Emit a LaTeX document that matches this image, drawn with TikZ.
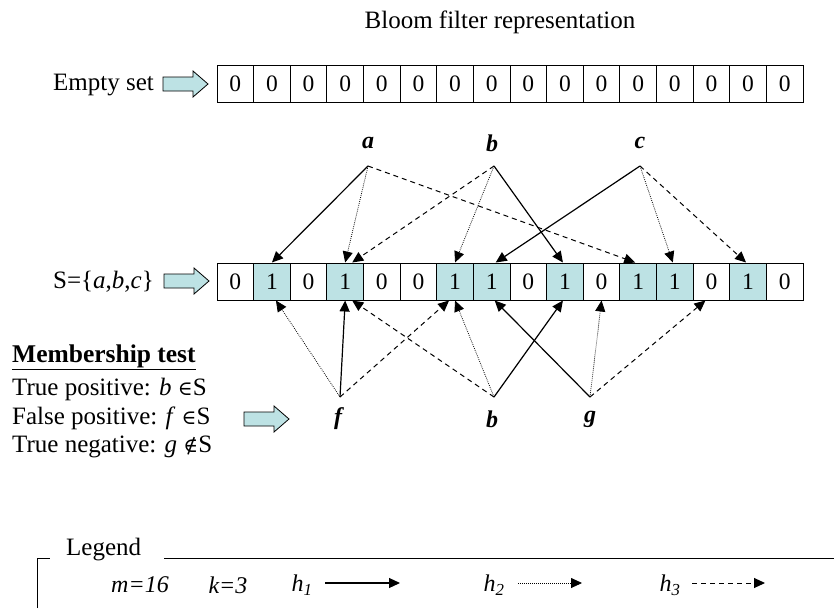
\documentclass[tikz,border=0pt]{standalone}
\usepackage{fontspec}
\setmainfont{Liberation Serif}
\newfontfamily\symfnt{DejaVu Serif}
\usetikzlibrary{arrows.meta,calc}
\definecolor{cyanfill}{RGB}{189,226,228}
\begin{document}
\begin{tikzpicture}[x=1pt,y=-1pt,
 cell/.style={draw, line width=1pt, minimum width=36.625pt, minimum height=37pt, inner sep=0pt, font=\fontsize{23.5}{23.5}\selectfont},
 lbl/.style={font=\fontsize{24}{24}\selectfont\bfseries\itshape, inner sep=0pt},
 txt/.style={font=\fontsize{25}{27}\selectfont, inner sep=0pt},
 itxt/.style={font=\fontsize{24}{26}\selectfont\itshape, inner sep=0pt},
 tip/.style={-{Triangle[length=11pt,width=10pt]}},
 hone/.style={tip, line width=1.2pt},
 htwo/.style={tip, line width=0.8pt, dash pattern=on 0.8pt off 1.2pt},
 hthree/.style={tip, line width=1pt, dash pattern=on 5pt off 4pt},
 blockarrow/.pic={\draw[fill=cyanfill, line width=0.8pt] (0,-7) -- (30,-7) -- (30,-13) -- (45,0) -- (30,13) -- (30,7) -- (0,7) -- cycle;}
]
\useasboundingbox (0,0) rectangle (834,608);

% title
\node[txt] (title) at (500,22) {Bloom filter representation};

% empty array
\node[txt, anchor=east] (empty) at (154,85) {Empty set};
\pic at (163,84) {blockarrow};
\foreach \i in {0,...,15}
  \node[cell] (e\i) at ({217+36.625*(\i+0.5)},84) {0};

% S array
\node[txt, anchor=east] (sset) at (154,282) {S=\{\textit{a},\textit{b},\textit{c}\}};
\pic at (164,281) {blockarrow};
\foreach \i/\v/\c in {0/0/white,1/1/cyanfill,2/0/white,3/1/cyanfill,4/0/white,5/0/white,6/1/cyanfill,7/1/cyanfill,8/0/white,9/1/cyanfill,10/0/white,11/1/cyanfill,12/1/cyanfill,13/0/white,14/1/cyanfill,15/0/white}
  \node[cell, fill=\c] (s\i) at ({217+36.625*(\i+0.5)},281.5) {\v};

% inserted elements
\node[lbl] (a) at (368,143) {a};
\node[lbl] (b) at (492,143) {b};
\node[lbl] (c) at (640,143) {c};
\coordinate (pa) at (368,166);
\coordinate (pb) at (494,166);
\coordinate (pc) at (640,166);

\draw[hone] (pa) -- (s1.north);
\draw[htwo] (pa) -- (s3.north);
\draw[hthree] (pa) -- ($(s11.north)+(-3,0)$);
\draw[htwo] (pb) -- (s6.north);
\draw[hone] (pb) -- ($(s9.north)+(-2,0)$);
\draw[hthree] (pb) -- ($(s3.north)+(7,0)$);
\draw[hone] (pc) -- ($(s7.north)+(4,0)$);
\draw[htwo] (pc) -- ($(s12.north)+(-2,0)$);
\draw[hthree] (pc) -- ($(s14.north)+(-2,0)$);

% membership test
\node[lbl] (f) at (338,419) {f};
\node[lbl] (b2) at (492,419) {b};
\node[lbl] (g) at (590,419) {g};
\coordinate (pf) at (340,397);
\coordinate (pb2) at (494,397);
\coordinate (pg) at (590,397);

\draw[htwo] (pf) -- ($(s1.south)+(4,0)$);
\draw[hone] (pf) -- (s3.south);
\draw[hthree] (pf) -- ($(s6.south)+(-6,0)$);
\draw[hthree] (pb2) -- ($(s3.south)+(7,0)$);
\draw[htwo] (pb2) -- (s6.south);
\draw[hone] (pb2) -- ($(s9.south)+(-2,0)$);
\draw[hone] (pg) -- ($(s7.south)+(3,0)$);
\draw[htwo] (pg) -- (s10.south);
\draw[hthree] (pg) -- ($(s13.south)+(-6,0)$);

\node[txt, anchor=west, font=\fontsize{25.5}{27}\selectfont\bfseries] (mt) at (12,357) {\underline{Membership test}};
\node[txt, anchor=west] (tp) at (12,389) {True positive: \textit{b} {\symfnt\fontsize{20}{20}\selectfont ∈}S};
\node[txt, anchor=west] (fp) at (12,418) {False positive: \textit{f} {\symfnt\fontsize{20}{20}\selectfont ∈}S};
\node[txt, anchor=west] (tn) at (12,447) {True negative: \textit{g} {\symfnt\fontsize{20}{20}\selectfont ∉}S};
\pic at (244,419) {blockarrow};

% legend
\draw[line width=1pt] (37,608) -- (37,558) -- (50,558);
\node[txt, anchor=west] (leg) at (66,550) {Legend};
\draw[line width=1pt] (164,558) -- (834,558);
\node[itxt] (m) at (140,585) {m=16};
\node[itxt] (k) at (228,585) {k=3};
\node[itxt] (h1) at (302,585) {h\textsubscript{1}};
\node[itxt] (h2) at (494,585) {h\textsubscript{2}};
\node[itxt] (h3) at (670,585) {h\textsubscript{3}};
\coordinate (l1s) at (325,583); \coordinate (l1e) at (400,583);
\coordinate (l2s) at (518,583); \coordinate (l2e) at (582,583);
\coordinate (l3s) at (692,583); \coordinate (l3e) at (765,583);
\draw[hone] (l1s) -- (l1e);
\draw[htwo] (l2s) -- (l2e);
\draw[hthree] (l3s) -- (l3e);
\end{tikzpicture}
\end{document}
